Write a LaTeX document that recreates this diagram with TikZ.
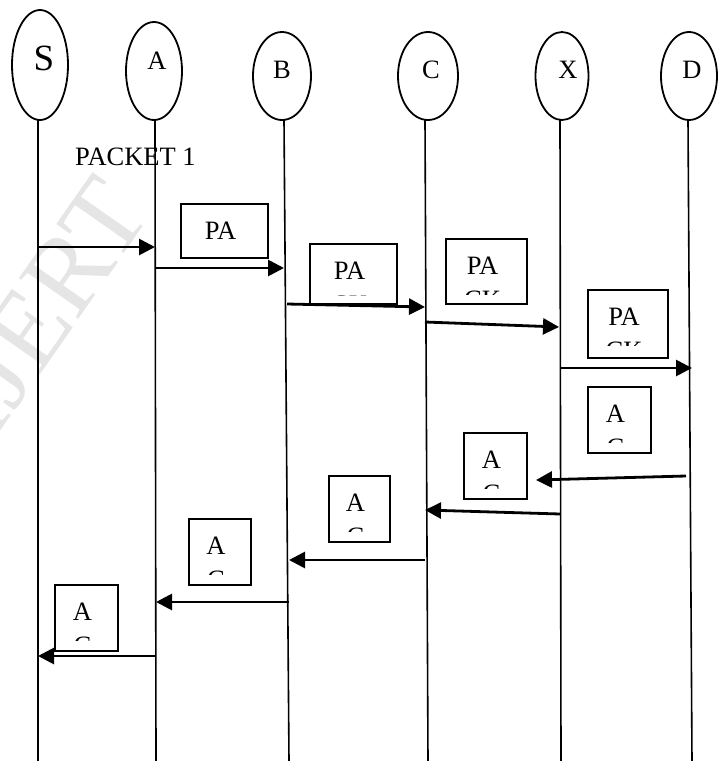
\documentclass[tikz,border=0pt]{standalone}
\usepackage{fontspec}
\setmainfont{Liberation Serif}
\usetikzlibrary{arrows.meta,shapes.geometric}

\tikzset{
  party/.style={ellipse, draw, line width=1.8pt, inner sep=0pt},
  plabel/.style={inner sep=0pt, font=\fontsize{26.5}{30}\selectfont},
  lifeline/.style={line width=1.6pt},
  msg/.style={line width=2.8pt, -{Triangle[length=16pt,width=16pt]}},
  pbox/.style={draw, line width=2pt, inner sep=0pt, rectangle},
  btext/.style={inner sep=0pt, anchor=base, font=\fontsize{26.5}{30}\selectfont},
}

% #1 name, #2 x1, #3 y1, #4 x2, #5 y2, #6 first line, #7 second line
\newcommand\msgbox[7]{%
  \node[pbox, minimum width={(#4-#2)*1pt}, minimum height={(#5-#3)*1pt}]
    (#1) at ({(#2+#4)/2},{(#3+#5)/2}) {};
  \begin{scope}
    \clip (#2,#3) rectangle (#4,{min(#3+55,#5-9)});
    \node[btext] (#1a) at ([xshift=-4pt,yshift=-36pt]#1.north) {#6};
    \node[btext] (#1b) at ([xshift=-4pt,yshift=-70pt]#1.north) {#7};
  \end{scope}
}

\begin{document}
\begin{tikzpicture}[x=1pt,y=-1pt]
\useasboundingbox (0,0) rectangle (721,761);

% watermark
\node[rotate=55, text=gray!20, inner sep=0pt,
      font=\fontsize{110}{110}\selectfont] (wm) at (44,307) {IJERT};

% parties
\node[party, minimum width=56pt, minimum height=110pt] (S) at (40,65) {};
\node[party, minimum width=56pt, minimum height=98pt]  (A) at (154,71) {};
\node[party, minimum width=58pt, minimum height=88pt]  (B) at (282,76) {};
\node[party, minimum width=60pt, minimum height=88pt]  (C) at (428,76) {};
\node[party, minimum width=53pt, minimum height=88pt]  (X) at (562,76) {};
\node[party, minimum width=56pt, minimum height=88pt]  (D) at (689,76) {};

\node[plabel, font=\fontsize{37}{40}\selectfont] (Sl) at (44,58) {S};
\node[plabel] (Al) at (157,61) {A};
\node[plabel] (Bl) at (282,70) {B};
\node[plabel] (Cl) at (431,70) {C};
\node[plabel] (Xl) at (568,70) {X};
\node[plabel] (Dl) at (692,70) {D};

% lifelines
\coordinate (St) at (38,120);  \coordinate (Sb) at (38,761);
\coordinate (At) at (155,120); \coordinate (Ab) at (156,761);
\coordinate (Bt) at (284,120); \coordinate (Bb) at (289,761);
\coordinate (Ct) at (425,120); \coordinate (Cb) at (428,761);
\coordinate (Xt) at (560,120); \coordinate (Xb) at (561,761);
\coordinate (Dt) at (688,120); \coordinate (Db) at (692,761);
\foreach \p in {S,A,B,C,X,D} \draw[lifeline] (\p t) -- (\p b);

% title
\node[btext, anchor=base west] (pk) at (75,165) {PACKET 1};

% boxes
\msgbox{b1}{181}{204}{268}{258}{PA}{CK}
\msgbox{b2}{310}{244}{397}{304}{PA}{CK}
\msgbox{b3}{446}{239}{527}{304}{PA}{CK}
\msgbox{b4}{588}{290}{668}{358}{PA}{CK}
\msgbox{b5}{588}{387}{651}{453}{A}{C}
\msgbox{b6}{464}{433}{527}{499}{A}{C}
\msgbox{b7}{329}{476}{390}{542}{A}{C}
\msgbox{b8}{189}{519}{251}{585}{A}{C}
\msgbox{b9}{55}{585}{118}{651}{A}{C}

% messages
\coordinate (m1s) at (38,247);  \coordinate (m1e) at (155,247);
\coordinate (m2s) at (155,268); \coordinate (m2e) at (284,268);
\coordinate (m3s) at (287,304); \coordinate (m3e) at (425,307);
\coordinate (m4s) at (425,322); \coordinate (m4e) at (559,327);
\coordinate (m5s) at (560,368); \coordinate (m5e) at (692,368);
\coordinate (m6s) at (686,476); \coordinate (m6e) at (536,480);
\coordinate (m7s) at (560,514); \coordinate (m7e) at (425,510);
\coordinate (m8s) at (425,560); \coordinate (m8e) at (289,560);
\coordinate (m9s) at (289,602); \coordinate (m9e) at (156,602);
\coordinate (m10s) at (156,656); \coordinate (m10e) at (38,656);
\foreach \i in {1,...,10} \draw[msg] (m\i s) -- (m\i e);
\end{tikzpicture}
\end{document}
